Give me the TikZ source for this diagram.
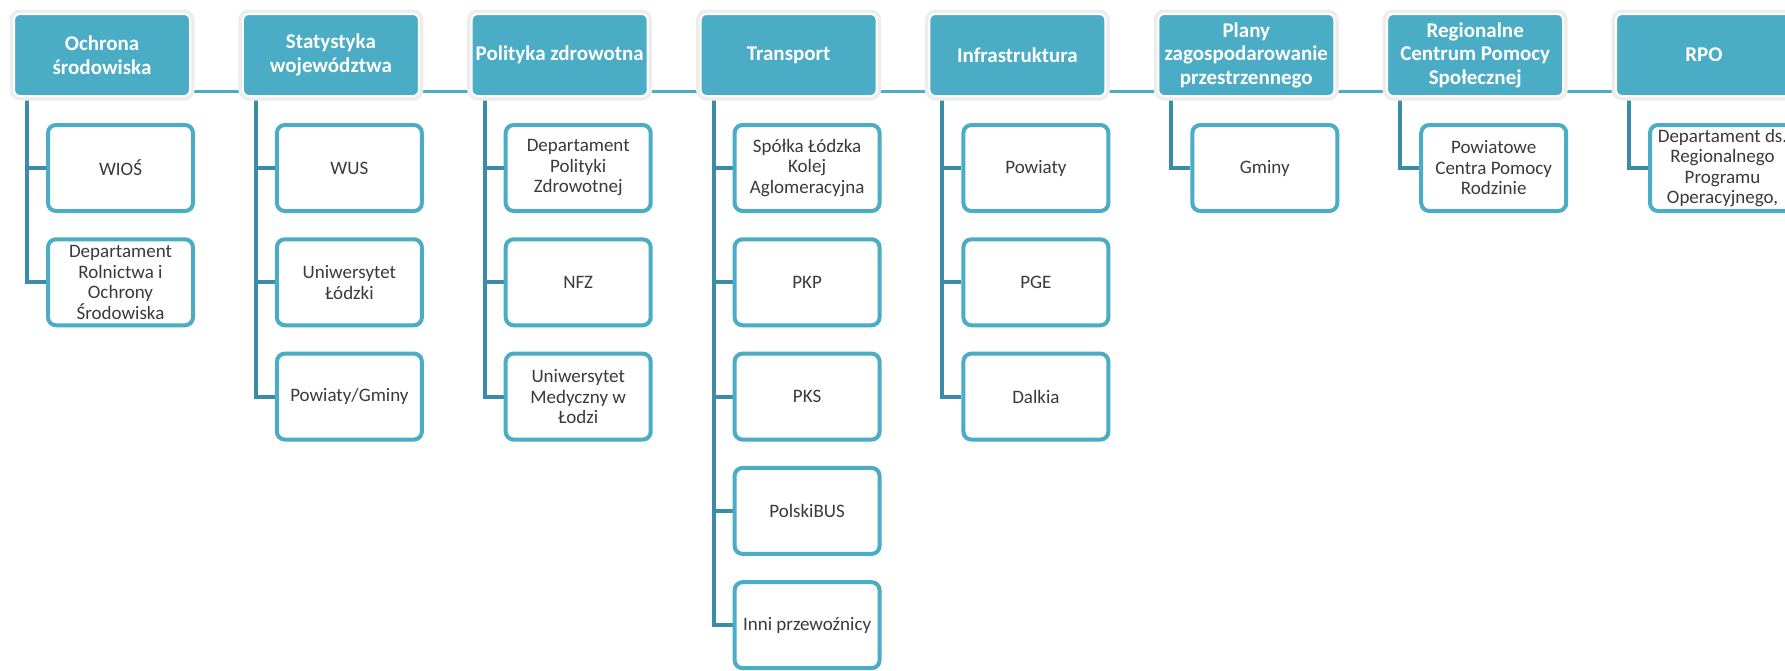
\documentclass[tikz,border=0pt]{standalone}
\usepackage{fontspec}
\setmainfont{Carlito}
\definecolor{acc}{HTML}{4BACC6}
\definecolor{trunk}{HTML}{3B8CA6}
\definecolor{txt}{HTML}{3A3A3A}
\pgfdeclarelayer{bgfill}
\pgfdeclarelayer{bg}
\pgfsetlayers{bgfill,bg,main}
\tikzset{
 parent/.style={rectangle, rounded corners=6pt, fill=acc, draw=white, line width=2pt,
   minimum width=176pt, minimum height=82pt, inner sep=0pt, align=center, text=white,
   font=\fontsize{21}{23.5}\selectfont\bfseries,
   preaction={draw=black!7, line width=9pt}},
 child/.style={rectangle, rounded corners=8pt, fill=white, draw=acc, line width=4pt,
   minimum width=145pt, minimum height=86pt, inner sep=0pt, align=center, text=txt,
   font=\fontsize{19}{20.5}\selectfont},
 link/.style={draw=acc, line width=3pt},
 tree/.style={draw=trunk, line width=4pt},
}
\begin{document}
\begin{tikzpicture}[x=1pt,y=-1pt]
\useasboundingbox (0,0) rectangle (1785,670);
\begin{pgfonlayer}{bgfill}
\fill[white] (0,0) rectangle (1785,670);
\end{pgfonlayer}

% parents
\node[parent] (p1) at (102,55) {Ochrona\\środowiska};
\node[parent] (p2) at (330.9,55) {Statystyka\\województwa};
\node[parent] (p3) at (559.7,55) {Polityka zdrowotna};
\node[parent] (p4) at (788.6,55) {Transport};
\node[parent] (p5) at (1017.4,55) {Infrastruktura};
\node[parent] (p6) at (1246.3,55) {Plany\\zagospodarowanie\\przestrzennego};
\node[parent] (p7) at (1475.2,55) {Regionalne\\Centrum Pomocy\\Społecznej};
\node[parent] (p8) at (1704.0,55) {RPO};

% children
\node[child] (c11) at (120.5,168) {WIOŚ};
\node[child] (c12) at (120.5,282.3) {Departament\\Rolnictwa i\\Ochrony\\Środowiska};

\node[child] (c21) at (349.4,168) {WUS};
\node[child] (c22) at (349.4,282.3) {Uniwersytet\\Łódzki};
\node[child] (c23) at (349.4,396.6) {Powiaty/Gminy};

\node[child] (c31) at (578.2,168) {Departament\\Polityki\\Zdrowotnej};
\node[child] (c32) at (578.2,282.3) {NFZ};
\node[child] (c33) at (578.2,396.6) {Uniwersytet\\Medyczny w\\Łodzi};

\node[child] (c41) at (807.1,168) {Spółka Łódzka\\Kolej\\Aglomeracyjna};
\node[child] (c42) at (807.1,282.3) {PKP};
\node[child] (c43) at (807.1,396.6) {PKS};
\node[child] (c44) at (807.1,510.9) {PolskiBUS};
\node[child] (c45) at (807.1,625.2) {Inni przewoźnicy};

\node[child] (c51) at (1035.9,168) {Powiaty};
\node[child] (c52) at (1035.9,282.3) {PGE};
\node[child] (c53) at (1035.9,396.6) {Dalkia};

\node[child] (c61) at (1264.8,168) {Gminy};

\node[child] (c71) at (1493.7,168) {Powiatowe\\Centra Pomocy\\Rodzinie};

\node[child] (c81) at (1722.5,168) {Departament ds.\\Regionalnego\\Programu\\Operacyjnego,};

\begin{pgfonlayer}{bg}
% horizontal links between parents
\foreach \a/\b in {p1/p2,p2/p3,p3/p4,p4/p5,p5/p6,p6/p7,p7/p8}
  \draw[link] ([yshift=6pt]\a.south east) -- ([yshift=6pt]\b.south west);
% trunks
\foreach \p/\c in {p1/c11,p1/c12,
                   p2/c21,p2/c22,p2/c23,
                   p3/c31,p3/c32,p3/c33,
                   p4/c41,p4/c42,p4/c43,p4/c44,p4/c45,
                   p5/c51,p5/c52,p5/c53,
                   p6/c61,p7/c71,p8/c81}
  \draw[tree] ([xshift=14pt]\p.south west) |- (\c.west);
\end{pgfonlayer}
\end{tikzpicture}
\end{document}
